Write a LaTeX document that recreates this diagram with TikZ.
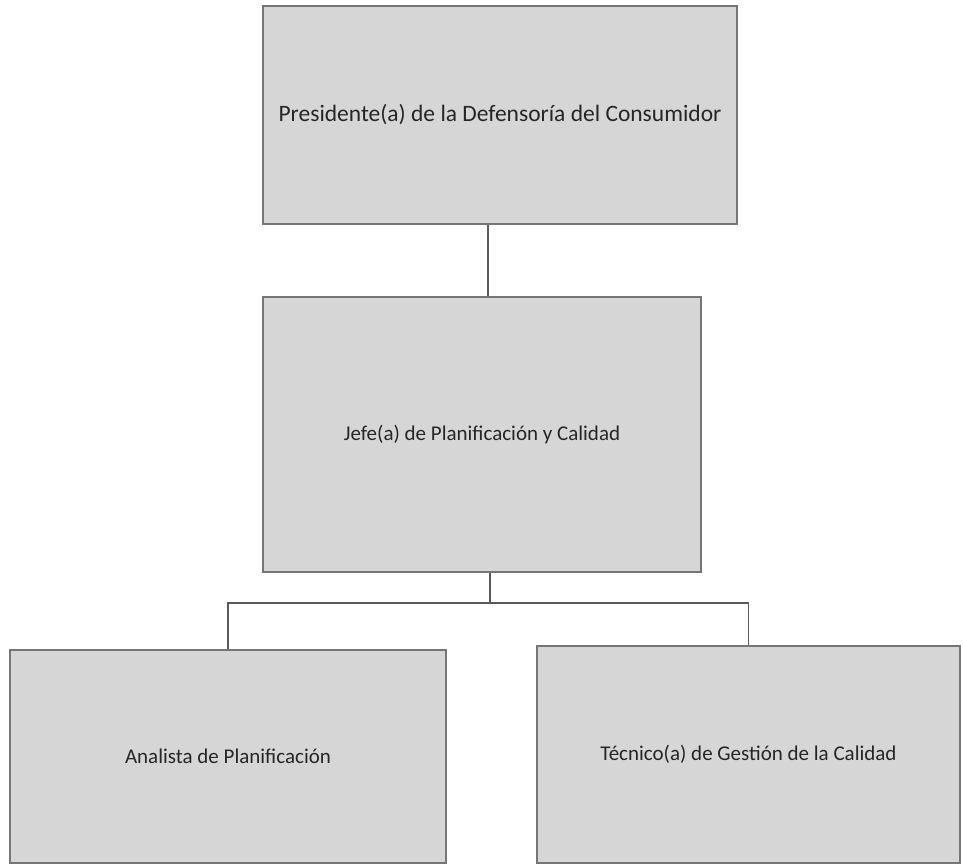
\documentclass[tikz,border=0pt]{standalone}
\usepackage{fontspec}
\setmainfont{Carlito}
\definecolor{boxfill}{HTML}{D6D6D6}
\definecolor{boxline}{HTML}{767676}
\definecolor{conline}{HTML}{5A5A5A}
\begin{document}
\begin{tikzpicture}[x=1pt,y=1pt,
  orgbox/.style={draw=boxline, fill=boxfill, line width=1.2pt, inner sep=0pt,
    font=\fontsize{21}{25}\selectfont, text=black!85},
  conn/.style={draw=conline, line width=1.4pt}]
\useasboundingbox (0,0) rectangle (963,866);
\node[orgbox, minimum width=474, minimum height=218, font=\fontsize{23.5}{28}\selectfont] (top) at (500,751) {Presidente(a) de la Defensoría del Consumidor};
\node[orgbox, minimum width=438, minimum height=275] (mid) at (482,431.5) {Jefe(a) de Planificación y Calidad};
\node[orgbox, minimum width=436, minimum height=213] (left) at (228,109.5) {Analista de Planificación};
\node[orgbox, minimum width=423, minimum height=217] (right) at (748.5,111.5) {Técnico(a) de Gestión de la Calidad};
\coordinate (c1) at (488,500);
\coordinate (c2) at (490,263);
\draw[conn] (top.south -| c1) -- (mid.north -| c1);
\draw[conn] (mid.south -| c2) -- (c2);
\draw[conn] (left.north) |- (c2) -| (right.north);
\end{tikzpicture}
\end{document}
